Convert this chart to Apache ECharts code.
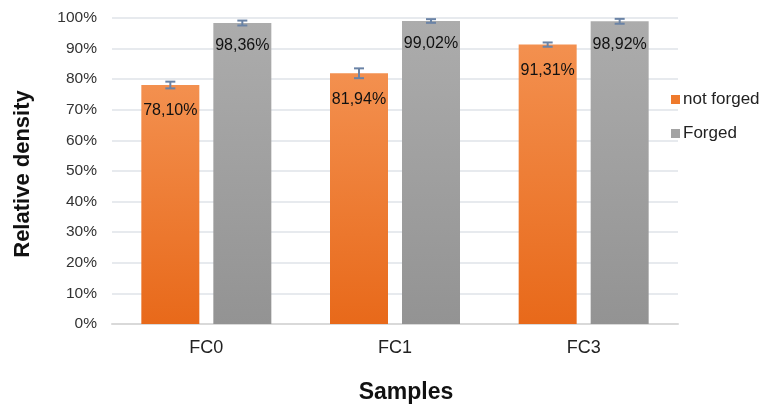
<!DOCTYPE html>
<html><head><meta charset="utf-8">
<script src="https://cdn.jsdelivr.net/npm/echarts@6/dist/echarts.min.js"></script>
<style>html,body{margin:0;padding:0;background:#fff}#c{width:766px;height:409px}</style>
</head><body><div id="c"></div>
<script>
const categories = ['FC0', 'FC1', 'FC3'];
const notForged = [78.10, 81.94, 91.31];
const forged = [98.36, 99.02, 98.92];
const notForgedErr = [1.1, 1.6, 0.7];
const forgedErr = [0.8, 0.6, 0.8];
const yTicks = [0, 10, 20, 30, 40, 50, 60, 70, 80, 90, 100];

const chart = echarts.init(document.getElementById('c'));
const fmt = v => v.toFixed(2).replace('.', ',') + '%';
const BW = 58, GAP = 14;

function errSeries(vals, errs, dir) {
  return {
    type: 'custom',
    silent: true,
    z: 10,
    data: vals.map((v, i) => [i, v, errs[i]]),
    encode: { x: 0, y: 1 },
    renderItem: function (params, api) {
      const i = api.value(0), v = api.value(1), e = api.value(2);
      const off = dir * (BW + GAP) / 2;
      const top = api.coord([i, v + e]);
      const bot = api.coord([i, v - e]);
      const x = top[0] + off;
      const cw = 5;
      const style = { stroke: '#6a83a6', lineWidth: 2 };
      return {
        type: 'group',
        children: [
          { type: 'line', shape: { x1: x, y1: top[1], x2: x, y2: bot[1] }, style },
          { type: 'line', shape: { x1: x - cw, y1: top[1], x2: x + cw, y2: top[1] }, style },
          { type: 'line', shape: { x1: x - cw, y1: bot[1], x2: x + cw, y2: bot[1] }, style }
        ]
      };
    }
  };
}

chart.setOption({
  animation: false,
  textStyle: { fontFamily: 'Liberation Sans, Arial, sans-serif' },
  grid: { left: 112, right: 88, top: 18, bottom: 82.5, containLabel: false },
  legend: {
    orient: 'vertical',
    left: 666, top: 86,
    itemWidth: 9, itemHeight: 9, itemGap: 17,
    icon: 'rect',
    textStyle: { fontSize: 17, color: '#222', padding: [0, 0, 0, -2] },
    data: [
      { name: 'not forged', itemStyle: { color: '#ef7a2c' } },
      { name: 'Forged', itemStyle: { color: '#a3a3a3' } }
    ]
  },
  xAxis: {
    type: 'category',
    data: categories,
    name: 'Samples',
    nameLocation: 'middle',
    nameGap: 57,
    nameTextStyle: { fontSize: 23, fontWeight: 'bold', color: '#111', padding: [0, 0, 0, 22] },
    axisLine: { lineStyle: { color: '#d9d9d9', width: 2 } },
    axisTick: { show: false },
    axisLabel: { fontSize: 18, color: '#222', margin: 15 }
  },
  yAxis: {
    type: 'value',
    min: 0, max: 100, interval: 10,
    name: 'Relative density',
    nameLocation: 'middle',
    nameGap: 78,
    nameTextStyle: { fontSize: 22, fontWeight: 'bold', color: '#111', padding: [0, 0, 0, -6] },
    axisLine: { show: false },
    axisTick: { show: false },
    splitLine: { lineStyle: { color: '#dfe3e8', width: 1.5 } },
    axisLabel: { fontSize: 15.5, color: '#333', margin: 15, formatter: v => yTicks.includes(v) ? v + '%' : '' }
  },
  series: [
    {
      name: 'not forged', type: 'bar', data: notForged, barWidth: BW, barGap: (GAP / BW * 100) + '%',
      itemStyle: { color: new echarts.graphic.LinearGradient(0, 0, 0, 1, [
        { offset: 0, color: '#f3904f' }, { offset: 1, color: '#e8691a' }]) },
      label: { show: true, position: 'insideTop', distance: 18, fontSize: 16, color: '#111', formatter: p => fmt(p.value) }
    },
    {
      name: 'Forged', type: 'bar', data: forged, barWidth: BW,
      itemStyle: { color: new echarts.graphic.LinearGradient(0, 0, 0, 1, [
        { offset: 0, color: '#acacac' }, { offset: 1, color: '#939393' }]) },
      label: { show: true, position: 'insideTop', distance: 15, fontSize: 16, color: '#111', formatter: p => fmt(p.value) }
    },
    errSeries(notForged, notForgedErr, -1),
    errSeries(forged, forgedErr, 1)
  ]
});
</script></body></html>
